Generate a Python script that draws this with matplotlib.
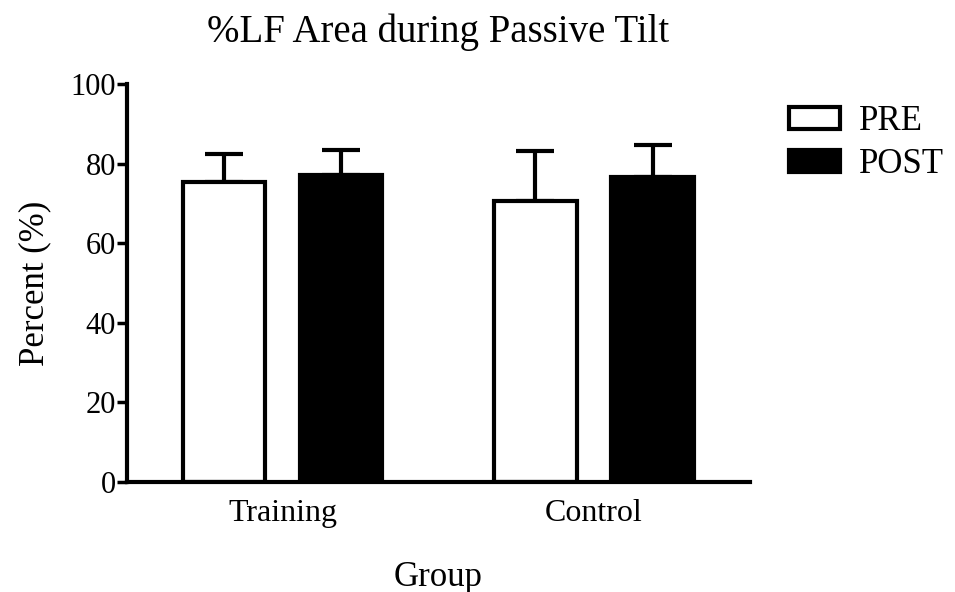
import numpy as np
import matplotlib.pyplot as plt

plt.rcParams['font.family'] = ['Liberation Serif', 'DejaVu Serif']

groups = ['Training', 'Control']
pre_mean = [75.4, 70.6]
post_mean = [77.1, 76.7]
pre_err = [7.0, 12.6]
post_err = [6.3, 8.0]

x = np.arange(len(groups))
w = 0.264
off = 0.188

fig = plt.figure(figsize=(9.55, 5.92), dpi=100)
ax = fig.add_axes([0.133, 0.186, 0.652, 0.672])

# bars with upper error bars only
ax.bar(x - off, pre_mean, w, color='white', edgecolor='black', linewidth=3, label='PRE', zorder=2)
ax.bar(x + off, post_mean, w, color='black', edgecolor='black', linewidth=3, label='POST', zorder=2)
ax.errorbar(x - off, pre_mean, yerr=[np.zeros(2), pre_err], fmt='none', ecolor='black',
            elinewidth=3, capsize=14, capthick=3, zorder=1)
ax.errorbar(x + off, post_mean, yerr=[np.zeros(2), post_err], fmt='none', ecolor='black',
            elinewidth=3, capsize=14, capthick=3, zorder=1)

ax.set_xlim(-0.5, 1.5)
ax.set_ylim(0, 100)
ax.set_yticks([0, 20, 40, 60, 80, 100])
ax.set_xticks(x)
ax.set_xticklabels(groups)
for s in ['top', 'right']:
    ax.spines[s].set_visible(False)
for s in ['left', 'bottom']:
    ax.spines[s].set_linewidth(3)
ax.tick_params(axis='y', length=7, width=2.5, labelsize=22, pad=1)
ax.tick_params(axis='x', length=0, labelsize=23, pad=12)

ax.set_ylabel('Percent (%)', fontsize=25, labelpad=14)
ax.set_xlabel('Group', fontsize=25, labelpad=24)
ax.set_title('%LF Area during Passive Tilt', fontsize=28, pad=30)

ax.legend(loc='upper left', bbox_to_anchor=(1.03, 1.0), frameon=False, fontsize=25,
          handlelength=1.45, handleheight=0.6, borderaxespad=0.2, labelspacing=0.3,
          handletextpad=0.55)

fig.savefig('out.png', dpi=100)
